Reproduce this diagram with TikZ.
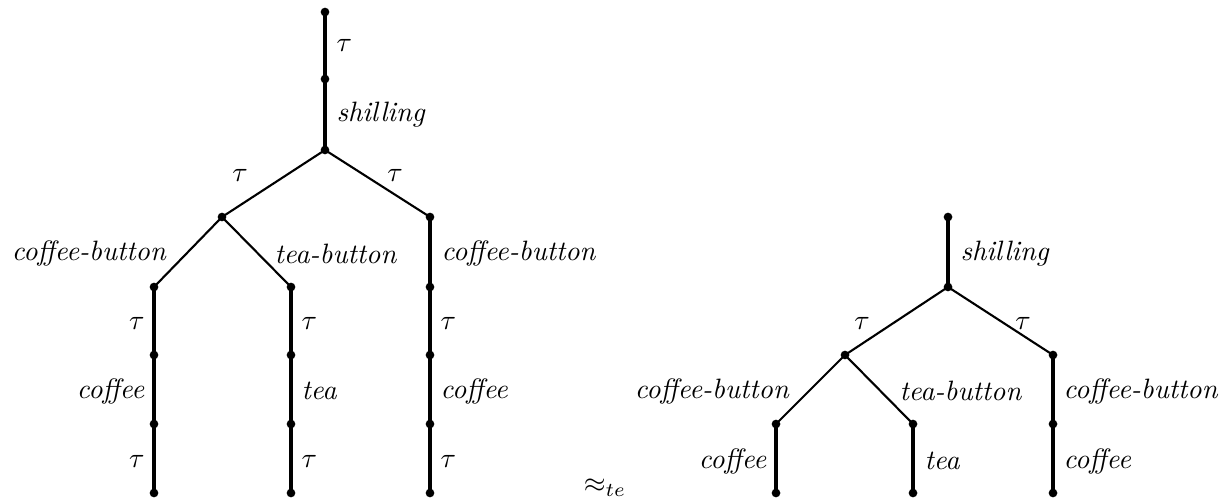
\documentclass[tikz,border=0pt]{standalone}
\begin{document}
\begin{tikzpicture}[x=0.357pt,y=-0.357pt,
  st/.style={circle,fill,inner sep=0pt,minimum size=3.1pt},
  diag/.style={line width=0.75pt},
  vert/.style={line width=1.2pt},
  lbl/.style={inner sep=0pt}]
\useasboundingbox (0,0) rectangle (1228,504);
% left tree
\node[st] (a0) at (325,12) {};
\node[st] (a1) at (325,79) {};
\node[st] (a2) at (325,150) {};
\node[st] (b1) at (222,217) {};
\node[st] (b2) at (430,217) {};
\node[st] (c1) at (154,287) {};
\node[st] (c2) at (291,287) {};
\node[st] (c3) at (430,287) {};
\node[st] (d1) at (154,355) {};
\node[st] (e1) at (154,424) {};
\node[st] (f1) at (154,493) {};
\node[st] (d2) at (291,355) {};
\node[st] (e2) at (291,424) {};
\node[st] (f2) at (291,493) {};
\node[st] (d3) at (430,355) {};
\node[st] (e3) at (430,424) {};
\node[st] (f3) at (430,493) {};
\draw[vert] (a0.center) -- (a1.center) -- (a2.center);
\draw[diag] (a2.center) -- (b1.center);
\draw[diag] (a2.center) -- (b2.center);
\draw[diag] (b1.center) -- (c1.center);
\draw[diag] (b1.center) -- (c2.center);
\draw[vert] (b2.center) -- (c3.center);
\draw[vert] (c1.center) -- (d1.center) -- (e1.center) -- (f1.center);
\draw[vert] (c2.center) -- (d2.center) -- (e2.center) -- (f2.center);
\draw[vert] (c3.center) -- (d3.center) -- (e3.center) -- (f3.center);
\node[lbl,anchor=west] (l1) at (336,45) {$\tau$};
\node[lbl,anchor=west] (l2) at (336,115) {\textit{shilling}};
\node[lbl] (l3) at (240,175) {$\tau$};
\node[lbl] (l4) at (395,175) {$\tau$};
\node[lbl,anchor=east] (l5) at (167,254) {\textit{coffee-button}};
\node[lbl,anchor=west] (l6) at (274,254) {\textit{tea-button}};
\node[lbl,anchor=west] (l7) at (441,254) {\textit{coffee-button}};
\node[lbl,anchor=east] (l8) at (145,323) {$\tau$};
\node[lbl,anchor=east] (l9) at (145,391) {\textit{coffee}};
\node[lbl,anchor=east] (l10) at (145,461) {$\tau$};
\node[lbl,anchor=west] (l11) at (301,323) {$\tau$};
\node[lbl,anchor=west] (l12) at (301,391) {\textit{tea}};
\node[lbl,anchor=west] (l13) at (301,461) {$\tau$};
\node[lbl,anchor=west] (l14) at (440,323) {$\tau$};
\node[lbl,anchor=west] (l15) at (440,391) {\textit{coffee}};
\node[lbl,anchor=west] (l16) at (440,461) {$\tau$};
% relation
\node[lbl] (rel) at (605,488) {$\approx_{te}$};
% right tree
\node[st] (g0) at (948,217) {};
\node[st] (g1) at (948,287) {};
\node[st] (h1) at (845,355) {};
\node[st] (h2) at (1053,355) {};
\node[st] (i1) at (776,424) {};
\node[st] (i2) at (913,424) {};
\node[st] (i3) at (1053,424) {};
\node[st] (j1) at (776,493) {};
\node[st] (j2) at (913,493) {};
\node[st] (j3) at (1053,493) {};
\draw[vert] (g0.center) -- (g1.center);
\draw[diag] (g1.center) -- (h1.center);
\draw[diag] (g1.center) -- (h2.center);
\draw[diag] (h1.center) -- (i1.center);
\draw[diag] (h1.center) -- (i2.center);
\draw[vert] (h2.center) -- (i3.center) -- (j3.center);
\draw[vert] (i1.center) -- (j1.center);
\draw[vert] (i2.center) -- (j2.center);
\node[lbl,anchor=west] (m1) at (960,254) {\textit{shilling}};
\node[lbl] (m2) at (862,323) {$\tau$};
\node[lbl] (m3) at (1023,323) {$\tau$};
\node[lbl,anchor=east] (m4) at (790,391) {\textit{coffee-button}};
\node[lbl,anchor=west] (m5) at (899,391) {\textit{tea-button}};
\node[lbl,anchor=west] (m6) at (1063,391) {\textit{coffee-button}};
\node[lbl,anchor=east] (m7) at (767,461) {\textit{coffee}};
\node[lbl,anchor=west] (m8) at (924,461) {\textit{tea}};
\node[lbl,anchor=west] (m9) at (1063,461) {\textit{coffee}};
\end{tikzpicture}
\end{document}
